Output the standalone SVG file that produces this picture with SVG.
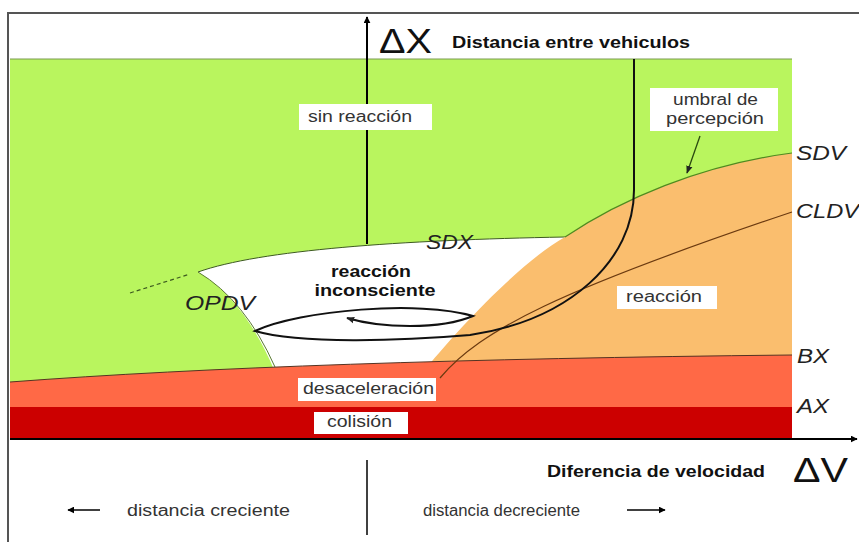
<svg xmlns="http://www.w3.org/2000/svg" width="859" height="542" viewBox="0 0 859 542">
<style>
.lbl{font-family:"Liberation Sans",Arial,sans-serif;font-size:16px;fill:#333}
.bold{font-family:"Liberation Sans",Arial,sans-serif;font-weight:bold;fill:#111}
.it{font-family:"Liberation Sans",Arial,sans-serif;font-style:italic;font-size:20px;fill:#222}
.box{fill:#fff}
.ax{stroke:#000;stroke-width:2;fill:none}
</style>
<defs>
<marker id="ah" viewBox="0 0 10 10" refX="9" refY="5" markerWidth="7" markerHeight="7" orient="auto" markerUnits="userSpaceOnUse">
<path d="M0,0 L10,5 L0,10 Z" fill="#000"/>
</marker>
<marker id="ahs" viewBox="0 0 10 10" refX="9" refY="5" markerWidth="8" markerHeight="8" orient="auto" markerUnits="userSpaceOnUse">
<path d="M0,1 L10,5 L0,9 Z" fill="#222"/>
</marker>
</defs>
<rect x="0" y="0" width="859" height="542" fill="#fff"/>
<g id="frame">
<path d="M8,542 L8,13 L859,13" fill="none" stroke="#555" stroke-width="2"/>
</g>
<g id="regions">
<rect id="sin-reaccion-zone" x="10" y="59" width="782" height="381" fill="#b9f55e"/>
<line x1="10" y1="59" x2="792" y2="59" stroke="#7a9a50" stroke-width="1"/>
<path id="inconsciente-zone" d="M198,272 C260,250 400,240 565,237 L565,372 L275,372 Q245,300 198,272 Z" fill="#fff"/>
<path d="M198,272 C260,250 400,240 565,237" fill="none" stroke="#3d5a20" stroke-width="1"/>
<path d="M198,272 Q245,300 275,367" fill="none" stroke="#5a7a30" stroke-width="1"/>
<path id="reaccion-zone" d="M428,366 C455,333 520,262 565,237 C620,200 700,165 792,153 L792,372 L428,372 Z" fill="#fabe6e"/>
<path d="M565,237 C620,200 700,165 792,153" fill="none" stroke="#4f8a20" stroke-width="1.2"/>
<path id="desaceleracion-zone" d="M10,382 Q300,360 792,355 L792,440 L10,440 Z" fill="#ff6946"/>
<path d="M10,382 Q300,360 792,355" fill="none" stroke="#553322" stroke-width="1"/>
<rect id="colision-zone" x="10" y="407" width="782" height="33" fill="#cc0000"/>
</g>
<g id="connectors">
<line x1="130" y1="293" x2="190" y2="274" stroke="#3d5a20" stroke-width="1.2" stroke-dasharray="4,3"/>
<path d="M440,378 C480,330 560,290 792,212" fill="none" stroke="#6b3a10" stroke-width="1.2"/>
<path d="M634,59 L634,190 C634,260 570,320 470,335 C400,341 300,344 255,331 C300,310 420,300 473,316 C440,330 380,328 347,318" fill="none" stroke="#111" stroke-width="2" marker-end="url(#ahs)"/>
<line x1="700" y1="136" x2="687" y2="173" stroke="#2a4a10" stroke-width="1.3" marker-end="url(#ahs)"/>
<line class="ax" x1="367" y1="244" x2="367" y2="17" marker-end="url(#ah)"/>
<line class="ax" x1="10" y1="439" x2="857" y2="439" marker-end="url(#ah)"/>
<line x1="367" y1="460" x2="367" y2="535" stroke="#000" stroke-width="1.5"/>
<line x1="100" y1="510" x2="68" y2="510" stroke="#000" stroke-width="1.5" marker-end="url(#ah)"/>
<line x1="627" y1="510" x2="665" y2="510" stroke="#000" stroke-width="1.5" marker-end="url(#ah)"/>
</g>
<g id="axis-labels">
<text x="379" y="53" style="font-family:'Liberation Sans',Arial,sans-serif;font-size:35px;fill:#111" textLength="53" lengthAdjust="spacingAndGlyphs">ΔX</text>
<text class="bold" x="452" y="48" font-size="16" textLength="238" lengthAdjust="spacingAndGlyphs">Distancia entre vehiculos</text>
<text class="bold" x="547" y="477" font-size="16" textLength="218" lengthAdjust="spacingAndGlyphs">Diferencia de velocidad</text>
<text x="793" y="482" style="font-family:'Liberation Sans',Arial,sans-serif;font-size:35px;fill:#111" textLength="55" lengthAdjust="spacingAndGlyphs">ΔV</text>
<text class="lbl" x="127" y="516" textLength="163" lengthAdjust="spacingAndGlyphs">distancia creciente</text>
<text class="lbl" x="423" y="516" textLength="157" lengthAdjust="spacingAndGlyphs">distancia decreciente</text>
</g>
<g id="node-sin-reaccion">
<rect class="box" x="299" y="104" width="133" height="26"/>
<text class="lbl" x="308" y="122" textLength="104" lengthAdjust="spacingAndGlyphs">sin reacción</text>
</g>
<g id="node-umbral">
<rect class="box" x="650" y="88" width="128" height="43"/>
<text class="lbl" x="673" y="105" textLength="85" lengthAdjust="spacingAndGlyphs">umbral de</text>
<text class="lbl" x="666" y="124" textLength="98" lengthAdjust="spacingAndGlyphs">percepción</text>
</g>
<g id="node-reaccion">
<rect class="box" x="617" y="286" width="100" height="23"/>
<text class="lbl" x="626" y="302" textLength="76" lengthAdjust="spacingAndGlyphs">reacción</text>
</g>
<g id="node-inconsciente">
<text class="bold" x="371" y="277" font-size="16" text-anchor="middle" textLength="80" lengthAdjust="spacingAndGlyphs">reacción</text>
<text class="bold" x="375" y="296" font-size="16" text-anchor="middle" textLength="121" lengthAdjust="spacingAndGlyphs">inconsciente</text>
</g>
<g id="node-desaceleracion">
<rect class="box" x="298" y="378" width="138" height="23"/>
<text class="lbl" x="303" y="394" textLength="131" lengthAdjust="spacingAndGlyphs">desaceleración</text>
</g>
<g id="node-colision">
<rect class="box" x="314" y="412" width="94" height="22"/>
<text class="lbl" x="327" y="427" textLength="65" lengthAdjust="spacingAndGlyphs">colisión</text>
</g>
<g id="curve-labels">
<text class="it" x="426" y="249" font-size="18" textLength="47" lengthAdjust="spacingAndGlyphs">SDX</text>
<text class="it" x="185" y="310" textLength="70" lengthAdjust="spacingAndGlyphs">OPDV</text>
<text class="it" x="796" y="160" textLength="50" lengthAdjust="spacingAndGlyphs">SDV</text>
<text class="it" x="796" y="218" textLength="63" lengthAdjust="spacingAndGlyphs">CLDV</text>
<text class="it" x="797" y="363" textLength="32" lengthAdjust="spacingAndGlyphs">BX</text>
<text class="it" x="797" y="413" textLength="32" lengthAdjust="spacingAndGlyphs">AX</text>
</g>
</svg>
